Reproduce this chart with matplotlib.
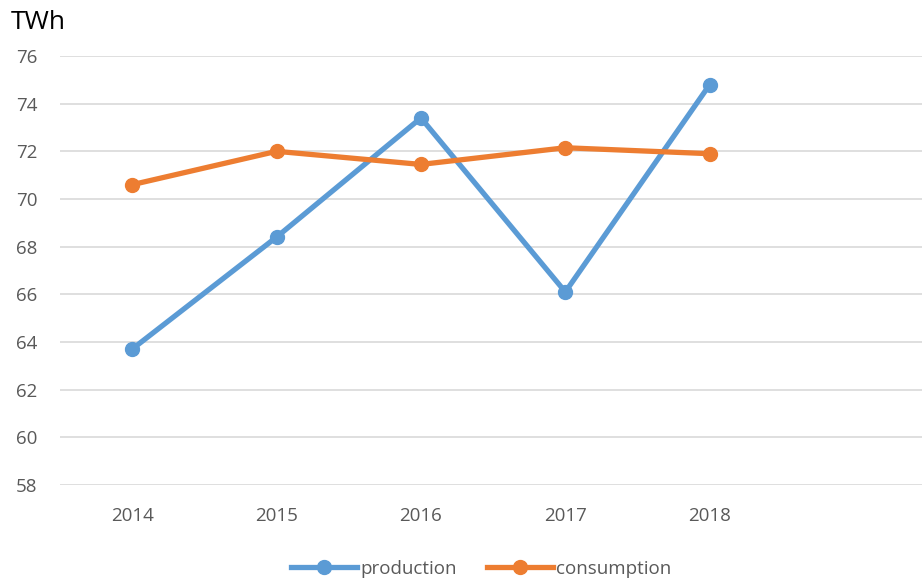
import matplotlib.pyplot as plt
import numpy as np

years = ['2014', '2015', '2016', '2017', '2018']
production = [63.7, 68.4, 73.4, 66.1, 74.8]
consumption = [70.6, 72.0, 71.45, 72.15, 71.9]

plt.rcParams['font.family'] = ['Open Sans', 'DejaVu Sans']

fig = plt.figure(figsize=(9.22, 5.82), dpi=100)
ax = fig.add_axes([0.065, 0.1667, 0.935, 0.7371])

x = np.arange(len(years))
ax.plot(x, production, color='#5B9BD5', lw=3.8, marker='o', ms=10, label='production')
ax.plot(x, consumption, color='#ED7D31', lw=3.8, marker='o', ms=10, label='consumption')

ax.set_ylim(58, 76)
ax.set_yticks(np.arange(58, 77, 2))
ax.set_xlim(-0.5, 5.47)
ax.set_xticks(x)
ax.set_xticklabels(years)
ax.grid(axis='y', color='#D9D9D9', lw=1.2)
ax.set_axisbelow(True)
for s in ax.spines.values():
    s.set_visible(False)
ax.tick_params(length=0, labelsize=13.5, labelcolor='#595959')
ax.tick_params(axis='y', pad=16)
ax.tick_params(axis='x', pad=16)

fig.text(0.012, 0.962, 'TWh', fontsize=19, color='black', va='center')

fig.legend(loc='center', bbox_to_anchor=(0.522, 0.023), ncol=2, frameon=False,
           fontsize=13.5, labelcolor='#595959', handlelength=3.5, columnspacing=1.6,
           handletextpad=0.2)

fig.savefig('out.png', dpi=100)
